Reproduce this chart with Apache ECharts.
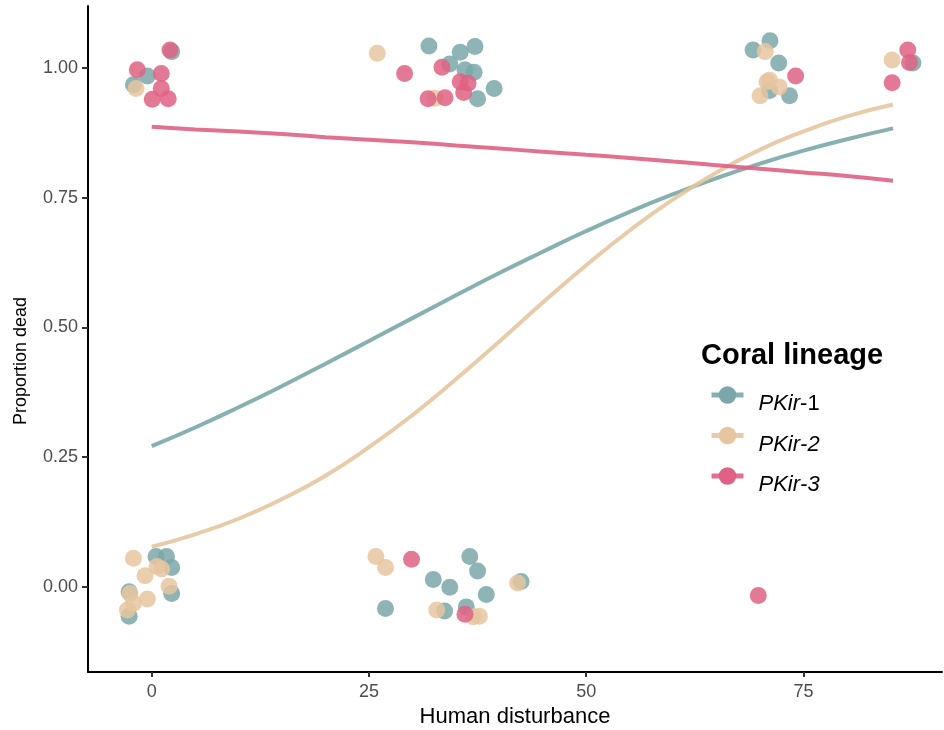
<!DOCTYPE html>
<html>
<head>
<meta charset="utf-8">
<script src="https://cdn.jsdelivr.net/npm/echarts@6/dist/echarts.min.js"></script>
<style>
  html, body { margin: 0; padding: 0; background: #fff; }
  #main { width: 944px; height: 730px; }
</style>
</head>
<body>
<div id="main"></div>
<script>
// lineage names
var lineages = ["PKir-1", "PKir-2", "PKir-3"];
var colors = ["#7aa7a9", "#e6c6a0", "#df6284"];

// jittered observations [disturbance, dead]
var pkir1Points = [
  [2.3, 1.032], [-0.5, 0.985], [-2.1, 0.968],
  [31.9, 1.043], [34.3, 1.008], [35.5, 1.031], [37.2, 1.042], [36.05, 0.997],
  [37.1, 0.992], [39.4, 0.961], [37.5, 0.941],
  [69.2, 1.035], [71.15, 1.053], [72.15, 1.010], [71.1, 0.957], [73.4, 0.947],
  [87.6, 1.010],
  [0.5, 0.058], [1.7, 0.058], [2.3, 0.037], [2.3, -0.013], [-2.6, -0.010], [-2.6, -0.057],
  [36.6, 0.058], [37.5, 0.030], [32.4, 0.014], [34.3, -0.001], [38.5, -0.015],
  [42.5, 0.010], [26.9, -0.042], [33.7, -0.047], [36.2, -0.039]
];
var pkir2Points = [
  [-1.8, 0.961], [25.96, 1.029], [32.6, 0.942],
  [70.6, 1.032], [70.8, 0.974], [71.1, 0.977], [72.2, 0.964], [70.0, 0.947],
  [85.2, 1.016],
  [-2.1, 0.055], [0.6, 0.039], [1.15, 0.034], [-0.77, 0.021], [2.0, 0.001],
  [-2.5, -0.013], [-0.5, -0.024], [-2.1, -0.032], [-2.8, -0.045],
  [25.8, 0.058], [26.9, 0.037], [42.1, 0.007], [32.8, -0.045], [37.0, -0.058], [37.7, -0.057]
];
var pkir3Points = [
  [2.1, 1.035], [-1.66, 0.997], [1.1, 0.99], [1.1, 0.961], [0.07, 0.94], [1.9, 0.941],
  [29.1, 0.990], [33.4, 1.002], [35.5, 0.974], [36.4, 0.971], [35.9, 0.953],
  [31.8, 0.941], [33.75, 0.943],
  [74.1, 0.985],
  [87.0, 1.035], [87.2, 1.011], [85.2, 0.972],
  [29.9, 0.053], [36.05, -0.053], [69.8, -0.017]
];

// fitted curves
var fitX = [0, 5, 10, 15, 20, 25, 30, 35, 40, 45, 50, 55, 60, 65, 70, 75, 80, 85.3];
var pkir1Fit = [0.271, 0.307, 0.346, 0.387, 0.430, 0.474, 0.518, 0.562, 0.605, 0.646, 0.686, 0.723, 0.757, 0.788, 0.816, 0.841, 0.863, 0.884];
var pkir2Fit = [0.077, 0.101, 0.131, 0.169, 0.214, 0.269, 0.331, 0.400, 0.473, 0.548, 0.620, 0.687, 0.747, 0.799, 0.843, 0.878, 0.907, 0.930];
var pkir3Fit = [0.887, 0.882, 0.878, 0.873, 0.867, 0.862, 0.857, 0.851, 0.845, 0.839, 0.833, 0.827, 0.820, 0.813, 0.806, 0.799, 0.792, 0.783];

var xTicks = [0, 25, 50, 75];
var yTicks = [0, 0.25, 0.5, 0.75, 1];

var font = "Liberation Sans, Arial, sans-serif";

function pairUp(xs, ys) {
  return xs.map(function (x, i) { return [x, ys[i]]; });
}

var fits = [pkir1Fit, pkir2Fit, pkir3Fit];
var points = [pkir1Points, pkir2Points, pkir3Points];

var series = [];
lineages.forEach(function (name, i) {
  series.push({
    name: name,
    type: "line",
    data: pairUp(fitX, fits[i]),
    smooth: true,
    symbol: "circle",
    showSymbol: false,
    z: 3,
    silent: true,
    itemStyle: { color: colors[i] },
    lineStyle: { color: colors[i], width: 4, opacity: 0.9 }
  });
});
lineages.forEach(function (name, i) {
  series.push({
    name: name,
    type: "scatter",
    data: points[i],
    symbolSize: 17,
    z: 2,
    itemStyle: { color: colors[i], opacity: 0.85 }
  });
});

var myChart = echarts.init(document.getElementById("main"));
myChart.setOption({
  animation: false,
  backgroundColor: "#fff",
  textStyle: { fontFamily: font },
  grid: { left: 88, right: 2, top: 6, bottom: 58, outerBoundsMode: "none", containLabel: false },
  title: {
    text: "Coral lineage",
    left: 701,
    top: 341,
    padding: 0,
    textStyle: { fontFamily: font, fontSize: 29, fontWeight: "bold", color: "#000" }
  },
  legend: {
    data: lineages,
    orient: "vertical",
    left: 709,
    top: 375,
    padding: 0,
    itemWidth: 32,
    itemHeight: 22,
    itemGap: 0.5,
    lineStyle: { width: 5 },
    formatter: function (name) {
      var parts = name.split("-");
      return "{it|" + parts[0] + "}{" + (name === "PKir-1" ? "up" : "it") + "|-" + parts[1] + "}";
    },
    textStyle: {
      fontFamily: font,
      fontSize: 22,
      lineHeight: 22,
      color: "#000",
      padding: [18, 0, 0, 10],
      rich: {
        it: { fontFamily: font, fontSize: 22, lineHeight: 22, fontStyle: "italic", color: "#000" },
        up: { fontFamily: font, fontSize: 22, lineHeight: 22, color: "#000" }
      }
    }
  },
  xAxis: {
    type: "value",
    min: -7.33,
    max: 90.94,
    name: "Human disturbance",
    nameLocation: "middle",
    nameGap: 32,
    nameTextStyle: { fontFamily: font, fontSize: 22, color: "#000" },
    axisLine: { onZero: false, lineStyle: { color: "#000", width: 2 } },
    axisTick: { customValues: xTicks, length: 5, lineStyle: { color: "#333", width: 2 } },
    axisLabel: {
      customValues: xTicks,
      margin: 11,
      fontFamily: font,
      fontSize: 18,
      color: "#4d4d4d"
    },
    splitLine: { show: false }
  },
  yAxis: {
    type: "value",
    min: -0.1646,
    max: 1.12,
    name: "Proportion dead",
    nameLocation: "middle",
    nameGap: 58,
    nameRotate: 90,
    nameTextStyle: { fontFamily: font, fontSize: 18, color: "#000", padding: [0, 44, 0, 0] },
    axisLine: { show: true, onZero: false, lineStyle: { color: "#000", width: 2 } },
    axisTick: { show: true, customValues: yTicks, length: 6, lineStyle: { color: "#333", width: 2 } },
    axisLabel: {
      customValues: yTicks,
      margin: 10,
      fontFamily: font,
      fontSize: 18,
      color: "#4d4d4d",
      formatter: function (v) { return v.toFixed(2); }
    },
    splitLine: { show: false }
  },
  series: series
});
</script>
</body>
</html>
